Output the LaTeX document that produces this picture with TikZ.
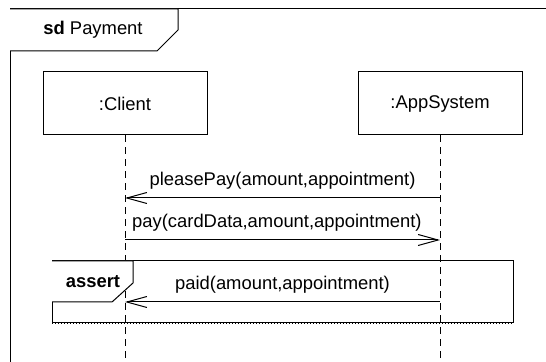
\documentclass[tikz,border=0pt]{standalone}
\usepackage{fontspec}
\setmainfont{Liberation Sans}
\usetikzlibrary{arrows.meta}

\begin{document}
\begin{tikzpicture}[x=0.5pt,y=-0.5pt,line width=0.5pt,
  every node/.style={font=\fontsize{9.2}{11}\selectfont},
  lifebox/.style={draw,minimum width=82pt,minimum height=31.5pt},
  lifeline/.style={dash pattern=on 3.5pt off 2.5pt},
  msg/.style={-{Straight Barb[length=10pt,width=5.5pt]}}]
 \useasboundingbox (0,0) rectangle (546,362);
 % frame
 \draw (10,362) -- (10,9) -- (546,9);
 \draw[fill=white] (10,9) -- (178,9) -- (178,30) -- (157,51) -- (10,51);
 \node (title) at (93,30) {\textbf{sd} Payment};
 % lifelines
 \node[lifebox] (client) at (125,103.5) {:Client};
 \node[lifebox] (app) at (440,103.5) {:AppSystem};
 \coordinate (clientend) at (125,362);
 \coordinate (append) at (440,362);
 \draw[lifeline] (client.south) -- (clientend);
 \draw[lifeline] (app.south) -- (append);
 % message points
 \coordinate (c1) at (125,198); \coordinate (a1) at (440,198);
 \coordinate (c2) at (125,240); \coordinate (a2) at (440,240);
 \coordinate (c3) at (125,302); \coordinate (a3) at (440,302);
 % assert fragment
 \draw (52,261) rectangle (513,323);
 \draw[densely dotted] (52,324) -- (513,324);
 \draw[fill=white] (52,261) -- (133,261) -- (133,283) -- (112,302) -- (52,302);
 \node (assert) at (93,282) {\textbf{assert}};
 \path
  (a1) edge [msg] node [above,yshift=1pt] {pleasePay(amount,appointment)} (c1)
  (c2) edge [msg] node [pos=0,anchor=south west,yshift=1pt] {pay(cardData,amount,appointment)} (a2)
  (a3) edge [msg] node [above,yshift=1pt] {paid(amount,appointment)} (c3);
\end{tikzpicture}
\end{document}
